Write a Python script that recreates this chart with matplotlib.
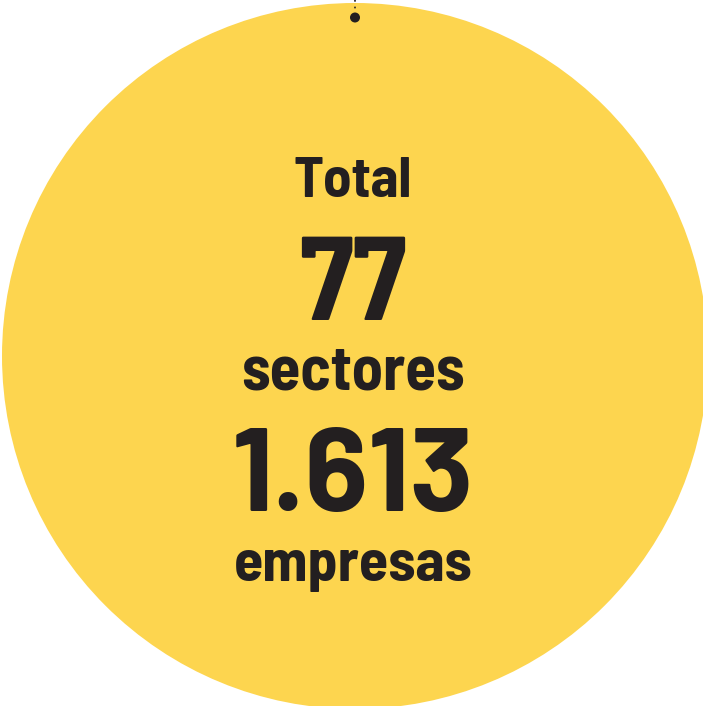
import matplotlib
matplotlib.use("Agg")
import matplotlib.pyplot as plt
from matplotlib.patches import Circle

# Data
labels = ["Total", "77", "sectores", "1.613", "empresas"]
total_sectores = 77
total_empresas = "1.613"

W, H = 703, 706
DPI = 100
fig = plt.figure(figsize=(W / DPI, H / DPI), dpi=DPI)
ax = fig.add_axes([0, 0, 1, 1])
ax.set_xlim(0, W)
ax.set_ylim(H, 0)
ax.axis("off")

yellow = "#FDD54F"
dark = "#231F20"

ax.add_patch(Circle((355, 356), 353, facecolor=yellow, edgecolor="none"))

# connector dot + dotted line at top
ax.plot([355, 355], [0, 10], color=dark, lw=1.2, linestyle=(0, (1, 3)))
ax.add_patch(Circle((355, 17.5), 5, facecolor=dark, edgecolor="none"))

semi = "Barlow Semi Condensed"
specs = [
    (labels[0], 197, 41, semi),
    (labels[1], 320, 86, semi),
    (labels[2], 390, 45, semi),
    (labels[3], 511, 85, "Barlow"),
    (labels[4], 581, 43, semi),
]
for txt, y, fs, fam in specs:
    ax.text(353, y, txt, ha="center", va="baseline", fontsize=fs,
            fontweight="bold", family=fam, color=dark)

fig.savefig("out.png", dpi=DPI)
